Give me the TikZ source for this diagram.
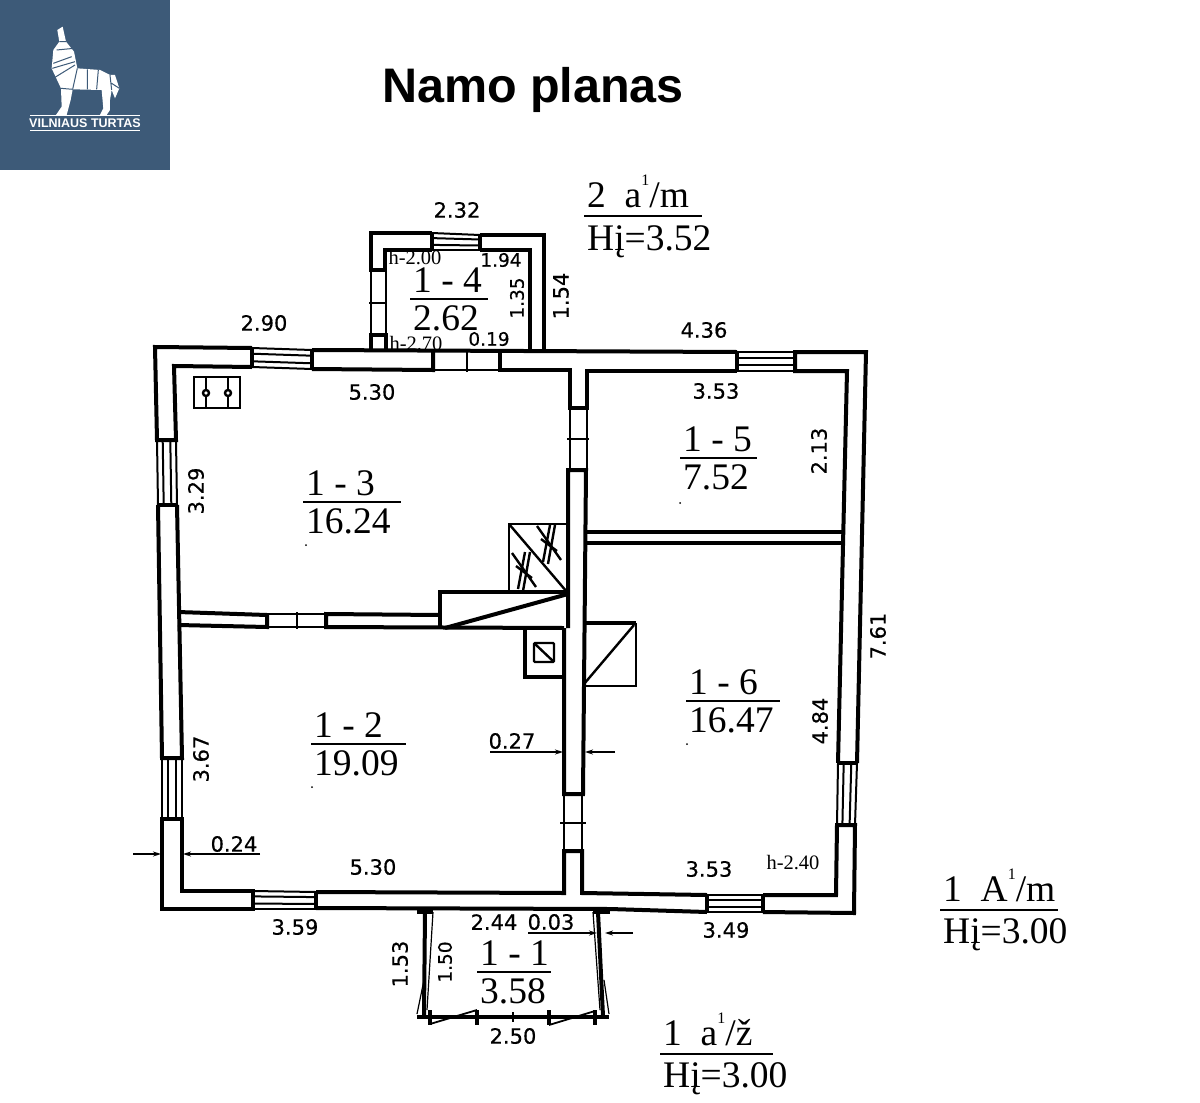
\documentclass[tikz,border=0pt]{standalone}
\usepackage{fontspec}
\setmainfont{Liberation Serif}
\newfontfamily\dimfont[FakeBold=0.5]{DejaVu Sans}
\newfontfamily\logofont{Liberation Sans}
\usetikzlibrary{calc,arrows.meta}
\definecolor{logoblue}{HTML}{3D5A78}
\tikzset{
    wall/.style={line width=4pt, line join=miter},
    thinwall/.style={line width=2.4pt},
    dimtext/.style={inner sep=0pt, font=\dimfont\fontsize{21}{21}\selectfont},
    dimsmall/.style={inner sep=0pt, font=\dimfont\fontsize{18.5}{18.5}\selectfont},
    heighttext/.style={inner sep=0pt, font=\fontsize{20.5}{20.5}\selectfont},
    roomtext/.style={inner sep=0pt, anchor=base west, font=\fontsize{37.5}{37.5}\selectfont},
    dimarrow/.style={line width=1.5pt, -{Stealth[length=8pt,width=5pt]}},
}
\NewDocumentCommand{\roomlabel}{mmmmmmO{7}O{31.5}}{%
\node[roomtext] (#1top) at (#2+3,#3-#7) {#5};%
\node[roomtext] (#1area) at (#2+3,#3+#8) {#6};%
\draw[line width=1.5pt] (#2,#3) -- +(#4,0);%
}
\NewDocumentCommand{\levelmark}{}{\raisebox{22pt}{\fontsize{16}{16}\selectfont 1}}
% four corners: two on one end of the window, two on the other
\NewDocumentCommand{\planwin}{mmmm}{%
\foreach \f in {0,0.3,0.7,1} {\draw[line width=2pt] ($(#1)!\f!(#2)$) -- ($(#3)!\f!(#4)$);}%
\draw[wall] (#1) -- (#2) (#3) -- (#4);%
}
\begin{document}
\begin{tikzpicture}[x=1pt,y=-1pt]
\useasboundingbox (0,0) rectangle (1200,1103);

% logo
\fill[logoblue] (0,0) rectangle (170,170);
\begin{scope}[scale=0.3333]
\fill[white] (172,90) -- (188,80) -- (198,125) -- (222,155) -- (232,205) -- (300,210)
    -- (330,225) -- (345,225) -- (358,265) -- (345,295) -- (335,270) -- (330,300) -- (330,330)
    -- (320,345) -- (300,345) -- (310,325) -- (305,270) -- (218,268) -- (212,300) -- (200,345)
    -- (168,345) -- (185,320) -- (183,265) -- (155,205) -- (160,150) -- (178,125) -- cycle;
\draw[logoblue, line width=1pt] (178,125) -- (198,125) (170,150) -- (222,145)
    (160,190) -- (215,170) (157,205) -- (225,185) (165,232) -- (225,195)
    (232,205) -- (218,268) (262,208) -- (262,268) (295,210) -- (290,268)
    (183,265) -- (218,268) (330,225) -- (335,270) (335,250) -- (358,265);
\end{scope}
\draw[white, line width=0.8pt] (30,115.5) -- (140,115.5) (30,130) -- (140,130);
\node[inner sep=0pt, text=white, font=\logofont\bfseries\fontsize{12.5}{12.5}\selectfont] (logotext) at (85,123) {VILNIAUS TURTAS};

\node[inner sep=0pt, font=\logofont\bfseries\fontsize{48.5}{48.5}\selectfont] (title) at (533,90) {Namo planas};

% outer walls
\draw[wall] (252,348) -- (155,347) -- (157,440) -- (176,440) -- (174,366) -- (252,367);
\planwin{252,348}{252,367}{312,350}{312,369}
\planwin{157,440}{176,440}{158,505}{177,505}
\draw[wall] (158,505) -- (162,758) -- (182,758) -- (177,505);
\planwin{162,758}{182,758}{162,819}{182,819}
\draw[wall] (162,819) -- (162,909) -- (253,909) -- (253,891) -- (182,891) -- (182,819) -- cycle;
\planwin{253,891}{253,909}{316,892}{316,909}
\draw[wall] (316,892) -- (564,893) -- (564,851) -- (582,851) -- (582,893) -- (707,895);
\draw[wall] (316,908) -- (610,909) -- (707,912);
\planwin{707,895}{707,912}{763,895}{763,912}
\draw[wall] (763,895) -- (836,895) -- (837,825) -- (855,825) -- (854,913) -- (763,912);
\planwin{837,825}{855,825}{838,763}{857,763}
\draw[wall] (838,763) -- (847,371) -- (795,371) -- (795,352) -- (866,352) -- (857,763);
\planwin{737,352}{737,371}{795,352}{795,371}
\draw[wall] (312,350) -- (737,352);
\draw[wall] (737,371) -- (587,371) -- (587,408) -- (570,408) -- (570,370) -- (500,370) -- (500,352);
\draw[wall] (312,369) -- (433,370) -- (433,352);
\draw[thinwall] (467,352) -- (467,372) (433,370) -- (500,370);

% inner walls
\draw[thinwall] (570,408) -- (570,470) (587,408) -- (587,470) (567,439) -- (589,439);
\draw[wall] (568,628) -- (568,470) -- (586,470) -- (583,794) -- (564,794) -- (564,628);
\draw[thinwall] (564,794) -- (564,851) (582,794) -- (582,851) (560,823) -- (586,823);
\draw[wall] (587,532) -- (842,532) (587,543) -- (842,543);

% annex
\draw[wall] (432,233) -- (371,233) -- (371,270) -- (385,270) -- (385,250) -- (432,250);
\planwin{432,233}{432,250}{480,235}{480,250}
\draw[wall] (480,235) -- (544,235) -- (544,352) (480,250) -- (530,250) -- (530,352);
\draw[thinwall] (371,270) -- (371,335) (386,270) -- (386,335) (369,303) -- (387,303);
\draw[wall] (371,350) -- (371,335) -- (386,335) -- (386,350);

% partition with door
\draw[wall] (178,612) -- (267,615) -- (267,627) -- (178,625);
\draw[thinwall] (267,614) -- (326,614) (267,627) -- (326,627) (297,612) -- (297,629);
\draw[wall] (564,628) -- (326,627) -- (326,614) -- (440,615);

% stair and fittings
\draw[wall] (440,628) -- (440,592) -- (568,592);
\draw[wall] (445,628) -- (568,594);
\draw[thinwall] (509,592) -- (509,524) -- (568,524);
\draw[thinwall] (509,524) -- (567,592);
\foreach \cx/\cy in {525/570,550/543} {
    \draw[thinwall] (\cx-2,\cy+21) -- (\cx+5,\cy-18) (\cx-7,\cy+19) -- (\cx,\cy-18);
    \draw[thinwall] (\cx-13,\cy-17) -- (\cx+11,\cy+17) (\cx-9,\cy-4) -- (\cx+7,\cy+8);
}
\draw[wall] (564,677) -- (525,677) -- (525,628);
\draw[thinwall, rounded corners=1pt] (534,643) rectangle (554,662);
\draw[thinwall] (534,643) -- (554,662);
\draw[wall] (584,623) -- (636,623);
\draw[thinwall] (636,623) -- (636,686) -- (584,686);
\draw[thinwall] (584,684) -- (634,625);
\draw[thinwall] (194,377) rectangle (240,408);
\foreach \sx in {206,228} {
    \draw[thinwall] (\sx,377) -- (\sx,408);
    \draw[thinwall, fill=white] (\sx,393) circle (3);
}

% entrance
\draw[wall] (417,912) -- (433,912) (593,912) -- (610,912);
\draw[line width=4pt] (425,912) -- (424,1016) (598,912) -- (603,1016);
\draw[line width=1.2pt] (433,912) -- (427,1010) (424,980) -- (417,1014) (593,912) -- (600,1010) (604,980) -- (609,1014);
\draw[wall] (417,1017) -- (609,1017);
\foreach \tx in {430,477,549,595} {\draw[wall] (\tx,1010) -- (\tx,1025);}
\draw[line width=1.2pt] (513,1012) -- (513,1022);
\draw[line width=1.8pt] (430,1024) -- (477,1010) (549,1025) -- (595,1011);

% dimension arrows
\draw[dimarrow] (528,933) -- (597,933);
\draw[dimarrow] (633,933) -- (605,933);
\draw[dimarrow] (490,752) -- (563,752);
\draw[dimarrow] (615,752) -- (585,752);
\draw[dimarrow] (260,854) -- (183,854);
\draw[dimarrow] (133,854) -- (161,854);

% floor marks
\foreach \dx/\dy in {306/545,312/787,680/503,687/744} {\fill (\dx,\dy) circle (1);}

% rooms
\roomlabel{room13}{303}{502}{98}{1 - 3}{16.24}
\roomlabel{room12}{311}{744}{95}{1 - 2}{19.09}
\roomlabel{room15}{680}{458}{77}{1 - 5}{7.52}
\roomlabel{room16}{686}{701}{94}{1 - 6}{16.47}
\roomlabel{room14}{410}{299}{78}{1 - 4}{2.62}
\roomlabel{room11}{477}{972}{74}{1 - 1}{3.58}
\roomlabel{level2}{584}{216}{118}{2\ \ a\levelmark/m}{Hį=3.52}[9][34]
\roomlabel{level1}{940}{910}{118}{1\ \ A\levelmark/m}{Hį=3.00}[9][33]
\roomlabel{porch}{660}{1054}{113}{1\ \ a\levelmark/ž}{Hį=3.00}[9][33]

% dimensions
\foreach \lx/\ly/\lt in {457/210/2.32,264/323/2.90,704/330/4.36,372/392/5.30,716/391/3.53,
    512/741/0.27,234/844/0.24,373/867/5.30,709/869/3.53,295/927/3.59,726/930/3.49,513/1036/2.50,494/922/2.44,551/922/0.03} {
    \node[dimtext] (dim\lx) at (\lx,\ly) {\lt};
}
\foreach \lx/\ly/\lt in {561/296/1.54,196/491/3.29,819/451/2.13,201/759/3.67,878/636/7.61,820/721/4.84,400/964/1.53} {
    \node[dimtext, rotate=90] (dim\lx) at (\lx,\ly) {\lt};
}
\node[dimsmall] (dim194) at (501,260) {1.94};
\node[dimsmall] (dim019) at (489,339) {0.19};
\node[dimsmall, rotate=90] (dim135) at (517,298) {1.35};
\node[dimsmall, rotate=90] (dim150) at (445,962) {1.50};
\node[heighttext] (h200) at (415,258) {h-2.00};
\node[heighttext] (h270) at (416,344) {h-2.70};
\node[heighttext] (h240) at (793,863) {h-2.40};
\end{tikzpicture}
\end{document}
